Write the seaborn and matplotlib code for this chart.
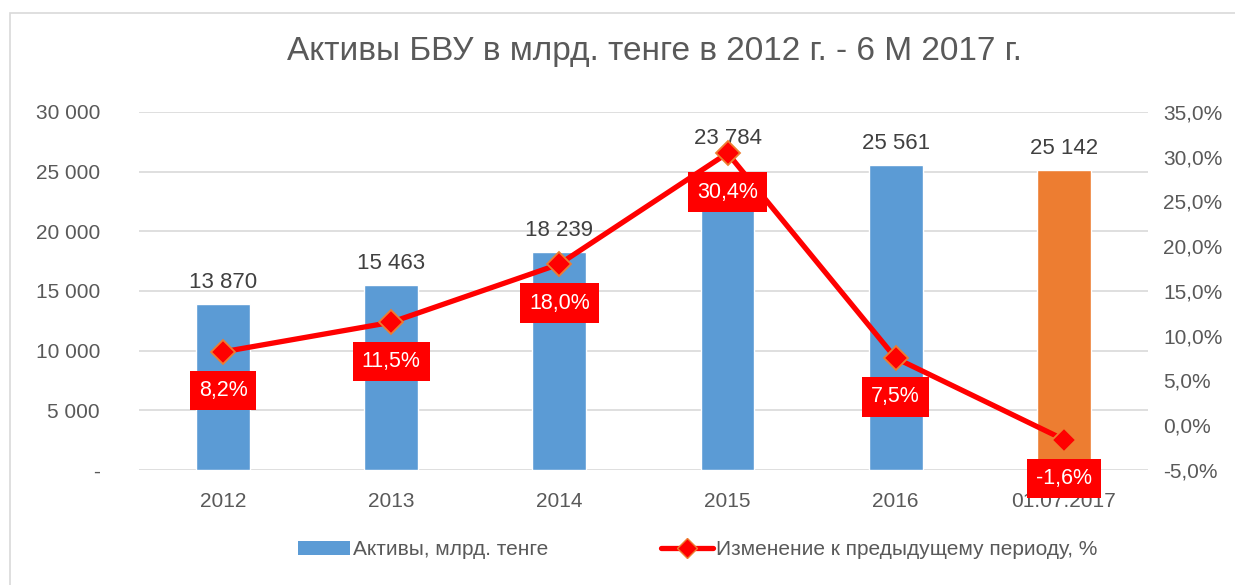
import matplotlib
matplotlib.use("Agg")
import matplotlib.pyplot as plt
import matplotlib.ticker as mticker
from matplotlib.lines import Line2D
from matplotlib.patches import Patch, Rectangle
import numpy as np
import pandas as pd
import seaborn as sns

categories = ["2012", "2013", "2014", "2015", "2016", "01.07.2017"]
assets = [13870, 15463, 18239, 23784, 25561, 25142]
change_pct = [8.2, 11.5, 18.0, 30.4, 7.5, -1.6]
bar_colors = ["#5B9BD5", "#5B9BD5", "#5B9BD5", "#5B9BD5", "#5B9BD5", "#ED7D31"]

title = "Активы БВУ в млрд. тенге в 2012 г. - 6 М 2017 г."
bar_label = "Активы, млрд. тенге"
line_label = "Изменение к предыдущему периоду, %"

# extra lift for value labels that would sit on the line (points)
label_pad = [8, 8, 8, 27, 8, 8]

sns.set_theme(style="white")
plt.rcParams["font.family"] = ["Liberation Sans", "DejaVu Sans"]

text_color = "#595959"
grid_color = "#D9D9D9"

df = pd.DataFrame({"cat": categories, "assets": assets, "change": change_pct})

fig = plt.figure(figsize=(12.35, 5.85), dpi=100)
ax = fig.add_axes([0.1125, 0.1966, 0.817, 0.612])

sns.barplot(data=df, x="cat", y="assets", hue="cat", palette=bar_colors,
            legend=False, width=0.32, saturation=1, ax=ax, zorder=2)
ax.set_ylim(0, 30000)
ax.set_yticks(np.arange(0, 30001, 5000))
ax.yaxis.set_major_formatter(mticker.FuncFormatter(
    lambda v, _: "-" if v == 0 else f"{int(v):,}".replace(",", " ")))
ax.grid(axis="y", color=grid_color, linewidth=1.2, zorder=0)
ax.set_axisbelow(True)
ax.set_xlabel("")
ax.set_ylabel("")
for s in ax.spines.values():
    s.set_visible(False)
ax.tick_params(axis="both", colors=text_color, labelsize=15, length=0)
ax.tick_params(axis="y", pad=28)
ax.tick_params(axis="x", pad=16)

bars = [p for p in ax.patches if not np.isnan(p.get_height()) and p.get_height() > 0]
bars.sort(key=lambda p: p.get_x())
for p, pad in zip(bars, label_pad):
    h = p.get_height()
    ax.annotate(f"{int(round(h)):,}".replace(",", " "),
                (p.get_x() + p.get_width() / 2, h), xytext=(0, pad),
                textcoords="offset points", ha="center", va="bottom",
                fontsize=16, color="#404040", zorder=1)

ax2 = ax.twinx()
x_pos = np.arange(len(categories))
sns.lineplot(x=x_pos, y=df["change"], ax=ax2, color="#FF0000", linewidth=3.8,
             marker="D", markersize=12, markerfacecolor="#FF0000",
             markeredgecolor="#ED7D31", markeredgewidth=1.3, zorder=3)
ax2.set_ylim(-5, 35)
ax2.set_yticks(np.arange(-5, 35.1, 5))
ax2.yaxis.set_major_formatter(mticker.FuncFormatter(
    lambda v, _: f"{v:.1f}%".replace(".", ",")))
ax2.set_ylabel("")
for s in ax2.spines.values():
    s.set_visible(False)
ax2.tick_params(axis="y", colors=text_color, labelsize=15, length=0, pad=11)
ax2.set_xlim(-0.5, len(categories) - 0.5)

for xp, v in zip(x_pos, df["change"]):
    ax2.annotate(f"{v:.1f}%".replace(".", ","), (xp, v), xytext=(0, -28),
                 textcoords="offset points", ha="center", va="center",
                 fontsize=15.5, color="white", zorder=5,
                 bbox=dict(boxstyle="square,pad=0.42", facecolor="#FF0000",
                           edgecolor="none"))

fig.text(0.53, 0.912, title, ha="center", va="center", fontsize=24, color=text_color)

handles = [
    Patch(facecolor="#5B9BD5", edgecolor="none"),
    Line2D([0], [0], color="#FF0000", linewidth=3.8, marker="D", markersize=10,
           markerfacecolor="#FF0000", markeredgecolor="#ED7D31"),
]
fig.legend(handles, [bar_label, line_label], loc="center", ncol=2,
           bbox_to_anchor=(0.565, 0.06), frameon=False, fontsize=15,
           labelcolor=text_color, columnspacing=5.4, handlelength=2.5,
           handletextpad=0.15)

fig.patches.append(Rectangle((0.008, -0.05), 1.1, 1.028, transform=fig.transFigure,
                             fill=False, edgecolor=grid_color, linewidth=1.2))

fig.savefig("out.png", dpi=100)
